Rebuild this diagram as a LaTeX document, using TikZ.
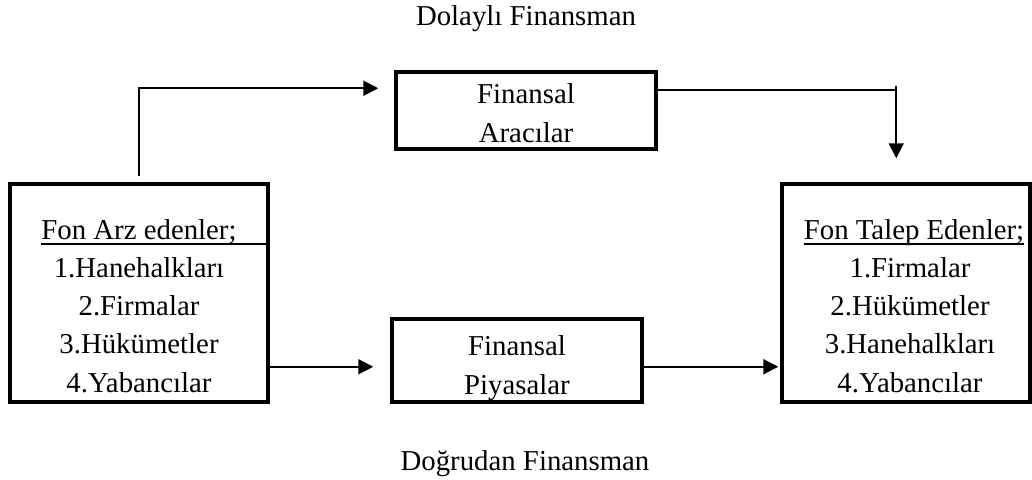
\documentclass[tikz,border=0pt]{standalone}
\usepackage{fontspec}
\setmainfont{Liberation Serif}
\usetikzlibrary{arrows.meta,calc}

\tikzset{
  box/.style={draw, line width=3.5pt, rectangle, inner sep=0pt},
  txt/.style={inner sep=0pt, anchor=base, font=\fontsize{28.8}{34}\selectfont},
  conn/.style={line width=2pt},
  arr/.style={conn, -{Triangle[length=15pt,width=15pt]}},
  uline/.style={line width=1.8pt}
}

\begin{document}
\begin{tikzpicture}[x=1pt, y=-1pt]
  \useasboundingbox (0,0) rectangle (1032,479);

  % boxes
  \node[box, minimum width=258pt, minimum height=218pt] (arzbox)   at (139,293)   {};
  \node[box, minimum width=248pt, minimum height=218pt] (talepbox) at (906,293)   {};
  \node[box, minimum width=260pt, minimum height=77pt]  (aracbox)  at (526,110.5) {};
  \node[box, minimum width=250pt, minimum height=83pt]  (piyabox)  at (517,360.5) {};

  % captions
  \node[txt] (dolayli)  at (526,25)  {Dolaylı Finansman};
  \node[txt] (dogrudan) at (525,470) {Doğrudan Finansman};

  % intermediary boxes
  \node[txt] (aracA) at (526,103) {Finansal};
  \node[txt] (aracB) at (526,142) {Aracılar};
  \node[txt] (piyaA) at (517,355) {Finansal};
  \node[txt] (piyaB) at (517,394) {Piyasalar};

  % suppliers of funds
  \node[txt] (arzhead) at (139,239) {Fon Arz edenler;};
  \foreach \t [count=\i] in {1.Hanehalkları,2.Firmalar,3.Hükümetler,4.Yabancılar}
    \node[txt] (arz\i) at (139,239+38.3*\i) {\t};
  \coordinate (arzul) at ($(arzhead.base west)+(0,5)$);
  \draw[uline] (arzul) -- (arzul -| arzbox.east);

  % demanders of funds
  \node[txt] (talephead) at (914,239) {Fon Talep Edenler;};
  \foreach \t [count=\i] in {1.Firmalar,2.Hükümetler,3.Hanehalkları,4.Yabancılar}
    \node[txt] (talep\i) at (910,239+38.3*\i) {\t};
  \draw[uline] ($(talephead.base west)+(0,5)$) -- ($(talephead.base east)+(0,5)$);

  % indirect finance
  \draw[arr] ($(arzbox.north)+(0,-6)$) |- ($(aracbox.north west)+(-16,18)$);
  \coordinate (turn) at ($(talepbox.north west)+(116,-92)$);
  \draw[conn] ($(aracbox.north east)+(0,20)$) -- (turn);
  \draw[arr] ($(turn)+(0,-4)$) -- ($(talepbox.north west)+(116,-24)$);

  % direct finance
  \draw[arr] ($(arzbox.south east)+(0,-37)$) -- ($(piyabox.south west)+(-17,-37)$);
  \draw[arr] ($(piyabox.south east)+(0,-37)$) -- ($(talepbox.south west)+(-2,-37)$);
\end{tikzpicture}
\end{document}
